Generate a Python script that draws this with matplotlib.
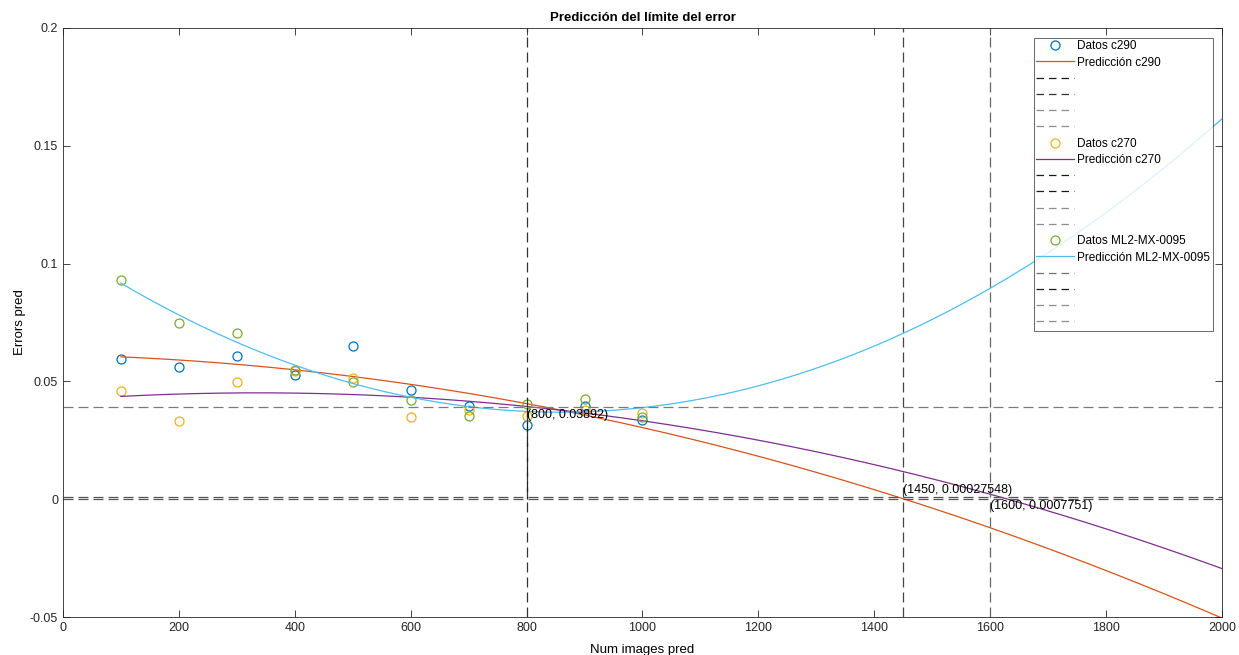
import numpy as np
import matplotlib
matplotlib.use("Agg")
import matplotlib.pyplot as plt

plt.rcParams['font.family'] = ['Liberation Sans', 'DejaVu Sans']

x_data = [100, 200, 300, 400, 500, 600, 700, 800, 900, 1000]
c290 = [0.0594, 0.0559, 0.0606, 0.0526, 0.0651, 0.0463, 0.0395, 0.0317, 0.0395, 0.0335]
c270 = [0.0458, 0.0330, 0.0499, 0.0545, 0.0516, 0.0347, 0.0378, 0.0352, 0.0378, 0.0366]
ml2 = [0.0930, 0.0748, 0.0707, 0.0550, 0.0498, 0.0420, 0.0354, 0.0402, 0.0427, 0.0347]

names = ['c290', 'c270', 'ML2-MX-0095']
data_colors = ['#0072BD', '#EDB120', '#77AC30']
fit_colors = ['#D95319', '#7E2F8E', '#4DBEEE']

x_pred_start, x_pred_end = 100, 2000
vlines = [800, 1450, 1600]
hlines = [0.03892, 0.00027548, 0.0007751]
labels = ['(800, 0.03892)', '(1450, 0.00027548)', '(1600, 0.0007751)']
label_y = [0.0356, 0.0038, -0.0030]

fig = plt.figure(figsize=(12.39, 6.55), dpi=100)
ax = fig.add_axes([0.0508, 0.058, 0.9355, 0.8993])

xs = np.linspace(x_pred_start, x_pred_end, 400)
series = [c290, c270, ml2]
legend_dash_colors = [['#1a1a1a', '#333333', '#8c8c8c', '#8c8c8c'],
                      ['#1a1a1a', '#1a1a1a', '#8c8c8c', '#8c8c8c'],
                      ['#707070', '#1a1a1a', '#8c8c8c', '#8c8c8c']]

handles = []
for i, ys in enumerate(series):
    h1, = ax.plot(x_data, ys, 'o', mfc='none', mec=data_colors[i], ms=6.5, mew=0.9,
                  label='Datos ' + names[i])
    coef = np.polyfit(x_data, ys, 2)
    h2, = ax.plot(xs, np.polyval(coef, xs), '-', color=fit_colors[i], lw=0.9,
                  label='Predicción ' + names[i])
    handles += [h1, h2]
    for c in legend_dash_colors[i]:
        hd, = ax.plot([], [], '--', color=c, lw=0.9, dashes=(6, 4), label=' ')
        handles.append(hd)

dash_kw = dict(lw=0.9, dashes=(8, 4))
# vertical lines
ax.axvline(vlines[0], color='#333333', **dash_kw)
ax.vlines(vlines[0], 0, hlines[0], colors='#222222', linestyles=(6, (8, 4)), lw=0.9)
ax.axvline(vlines[1], color='#444444', **dash_kw)
ax.axvline(vlines[2], color='#666666', **dash_kw)
# horizontal lines
ax.axhline(hlines[0], color='#7a7a7a', **dash_kw)
ax.axhline(hlines[1], color='#555555', **dash_kw)
ax.axhline(hlines[2], color='#555555', **dash_kw)

for xv, yv, t in zip(vlines, label_y, labels):
    ax.text(xv, yv, t, fontsize=9, va='center', ha='left', color='black')

ax.set_xlim(0, 2000)
ax.set_ylim(-0.05, 0.2)
ax.set_xticks(np.arange(0, 2001, 200))
ax.set_yticks([-0.05, 0, 0.05, 0.1, 0.15, 0.2])
ax.set_yticklabels(['-0.05', '0', '0.05', '0.1', '0.15', '0.2'])
ax.tick_params(direction='in', length=5, width=0.6, labelsize=9, colors='#262626',
               top=True, right=True)
for s in ax.spines.values():
    s.set_color('#262626')
    s.set_linewidth(0.6)

ax.set_title('Predicción del límite del error', fontsize=9.5, fontweight='bold', pad=5)
ax.set_xlabel('Num images pred', fontsize=9.5, labelpad=7.5)
ax.set_ylabel('Errors pred', fontsize=9.5, labelpad=3)

leg = ax.legend(handles=handles, loc='upper right', bbox_to_anchor=(0.992, 0.983),
                fontsize=8.5, frameon=True, fancybox=False, edgecolor='#262626',
                handlelength=3.2, handletextpad=0.3, labelspacing=0.36,
                borderpad=0.2, borderaxespad=0)
leg.get_frame().set_linewidth(0.6)

fig.savefig('out.png', dpi=100)
